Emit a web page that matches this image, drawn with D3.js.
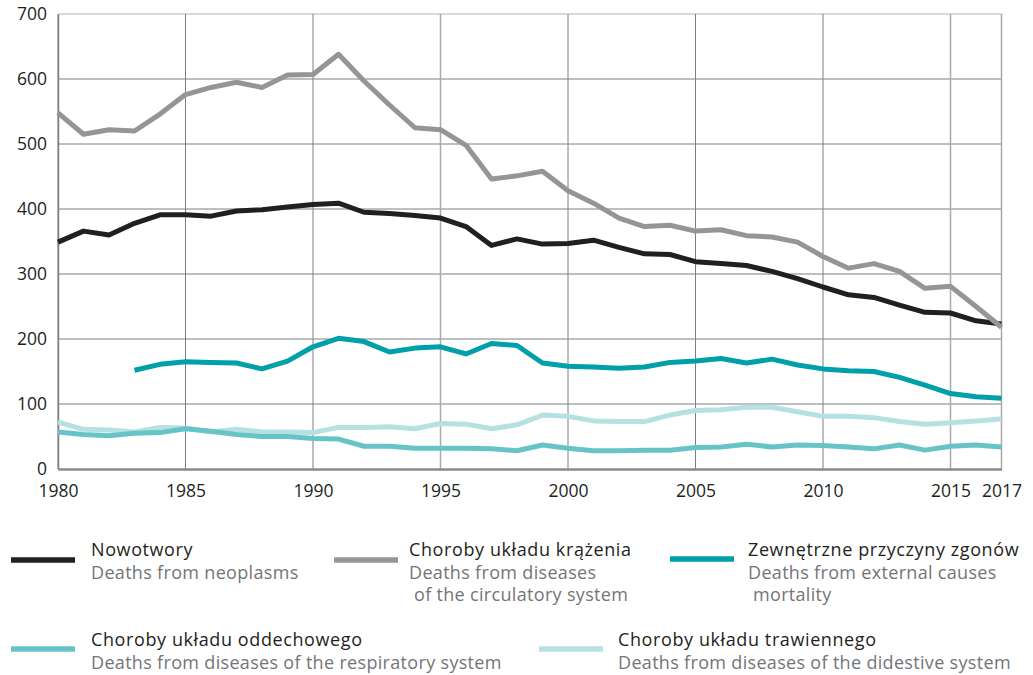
<!DOCTYPE html>
<html>
<head>
<meta charset="utf-8">
<script src="https://cdn.jsdelivr.net/npm/d3@7"></script>
<style>
  html, body { margin: 0; padding: 0; background: #fff; }
  svg { display: block; font-family: "Open Sans", "Noto Sans", sans-serif; }
</style>
</head>
<body>
<svg id="chart" width="1033" height="675"></svg>
<script>
const years = d3.range(1980, 2018);
const xTickValues = [1980, 1985, 1990, 1995, 2000, 2005, 2010, 2015, 2017];
const yTickValues = [0, 100, 200, 300, 400, 500, 600, 700];

const neoplasms = [349, 366, 360, 378, 391, 391, 389, 397, 399, 403, 407, 409,
  395, 393, 390, 386, 373, 344, 354, 346, 347, 352, 341, 331, 330,
  319, 316, 313, 304, 293, 280, 268, 264, 252, 241, 240, 228, 223];
const circulatory = [548, 515, 522, 520, 546, 576, 587, 595, 587, 606, 607, 638,
  597, 560, 525, 522, 498, 446, 451, 458, 428, 409, 386, 373, 375,
  366, 368, 359, 357, 349, 327, 309, 316, 304, 278, 281, 250, 218];
const external = [null, null, null, 152, 161, 165, 164, 163, 154, 166, 188, 201,
  196, 180, 186, 188, 177, 193, 190, 163, 158, 157, 155, 157, 164,
  166, 170, 163, 169, 160, 154, 151, 150, 141, 129, 116, 111, 109];
const respiratory = [57, 53, 51, 55, 56, 62, 58, 53, 50, 50, 47, 46,
  35, 35, 32, 32, 32, 31, 28, 37, 32, 28, 28, 29, 29,
  33, 34, 38, 34, 37, 36, 34, 31, 37, 29, 35, 37, 34];
const digestive = [72, 61, 60, 57, 64, 63, 57, 61, 57, 57, 56, 64,
  64, 65, 62, 70, 69, 62, 68, 83, 81, 74, 73, 73, 83,
  90, 91, 95, 95, 88, 81, 81, 79, 73, 69, 71, 74, 77];

const seriesNames = ["Nowotwory", "Choroby układu krążenia", "Zewnętrzne przyczyny zgonów",
  "Choroby układu oddechowego", "Choroby układu trawiennego"];
const seriesNamesEn = [
  ["Deaths from neoplasms"],
  ["Deaths from diseases", " of the circulatory system"],
  ["Deaths from external causes", " mortality"],
  ["Deaths from diseases of the respiratory system"],
  ["Deaths from diseases of the didestive system"]
];
const seriesValues = [neoplasms, circulatory, external, respiratory, digestive];
const seriesColors = ["#231f20", "#939598", "#00a0a8", "#66c4c9", "#b6e1e3"];

const svg = d3.select("#chart");
const x = d3.scaleLinear().domain([1980, 2017]).range([58, 1001.5]);
const y = d3.scaleLinear().domain([0, 700]).range([469, 14]);

// grid
const grid = svg.append("g");
grid.selectAll("line.h").data(yTickValues.filter(v => v > 0)).enter().append("line")
  .attr("x1", x(1980)).attr("x2", x(2017))
  .attr("y1", d => y(d)).attr("y2", d => y(d))
  .attr("stroke", d => d === 700 ? "#b5b5b5" : "#7d7e80").attr("stroke-width", 1);
grid.selectAll("line.v").data(xTickValues).enter().append("line")
  .attr("x1", d => x(d)).attr("x2", d => x(d))
  .attr("y1", y(700)).attr("y2", y(0))
  .attr("stroke", d => (d === 1995 || d === 2015 || d === 2017) ? "#aaaaaa" : "#7d7e80")
  .attr("stroke-width", d => (d === 1995 || d === 2015 || d === 2017) ? 1.5 : 1);

// axes
const yAxis = d3.axisLeft(y).tickValues(yTickValues).tickSize(0).tickPadding(11);
const yg = svg.append("g").attr("transform", `translate(${x(1980)},0)`).call(yAxis);
yg.select(".domain").attr("stroke", "#808080").attr("stroke-width", 1.5);
yg.selectAll("text").attr("font-size", 17.5).attr("fill", "#231f20")
  .attr("font-family", "'Open Sans', sans-serif").attr("dy", "0.3em");

const xAxis = d3.axisBottom(x).tickValues(xTickValues).tickFormat(d3.format("d")).tickSize(0).tickPadding(16);
const xg = svg.append("g").attr("transform", `translate(0,${y(0)})`).call(xAxis);
xg.select(".domain").attr("stroke", "#8a8a8a").attr("stroke-width", 2.5);
xg.selectAll("text").attr("font-size", 17.5).attr("fill", "#231f20")
  .attr("font-family", "'Open Sans', sans-serif");

// lines
const line = d3.line()
  .defined(d => d.v !== null)
  .x(d => x(d.year)).y(d => y(d.v));

const drawOrder = [4, 3, 2, 0, 1];
drawOrder.forEach(i => {
  const data = years.map((yr, k) => ({ year: yr, v: seriesValues[i][k] }));
  svg.append("path")
    .datum(data)
    .attr("d", line)
    .attr("fill", "none")
    .attr("stroke", seriesColors[i])
    .attr("stroke-width", 5)
    .attr("stroke-linejoin", "round");
});

// legend
const legendPos = [
  { lx: 11, ly: 560, tx: 91, ty: 556 },
  { lx: 334, ly: 560, tx: 409, ty: 556 },
  { lx: 670, ly: 559, tx: 748, ty: 556 },
  { lx: 11, ly: 649, tx: 91, ty: 646 },
  { lx: 539, ly: 649, tx: 618, ty: 646 }
];
const lg = svg.append("g");
seriesNames.forEach((name, i) => {
  const p = legendPos[i];
  lg.append("line").attr("x1", p.lx).attr("x2", p.lx + 64)
    .attr("y1", p.ly).attr("y2", p.ly)
    .attr("stroke", seriesColors[i]).attr("stroke-width", 5.5);
  lg.append("text").attr("x", p.tx).attr("y", p.ty)
    .attr("font-size", 18).attr("letter-spacing", 0.6)
    .attr("fill", "#231f20").text(name);
  seriesNamesEn[i].forEach((t, j) => {
    lg.append("text").attr("x", p.tx).attr("y", p.ty + 22.5 * (j + 1))
      .attr("font-size", 18).attr("letter-spacing", 0.32).attr("fill", "#747578")
      .attr("xml:space", "preserve").style("white-space", "pre").text(t);
  });
});
</script>
</body>
</html>
